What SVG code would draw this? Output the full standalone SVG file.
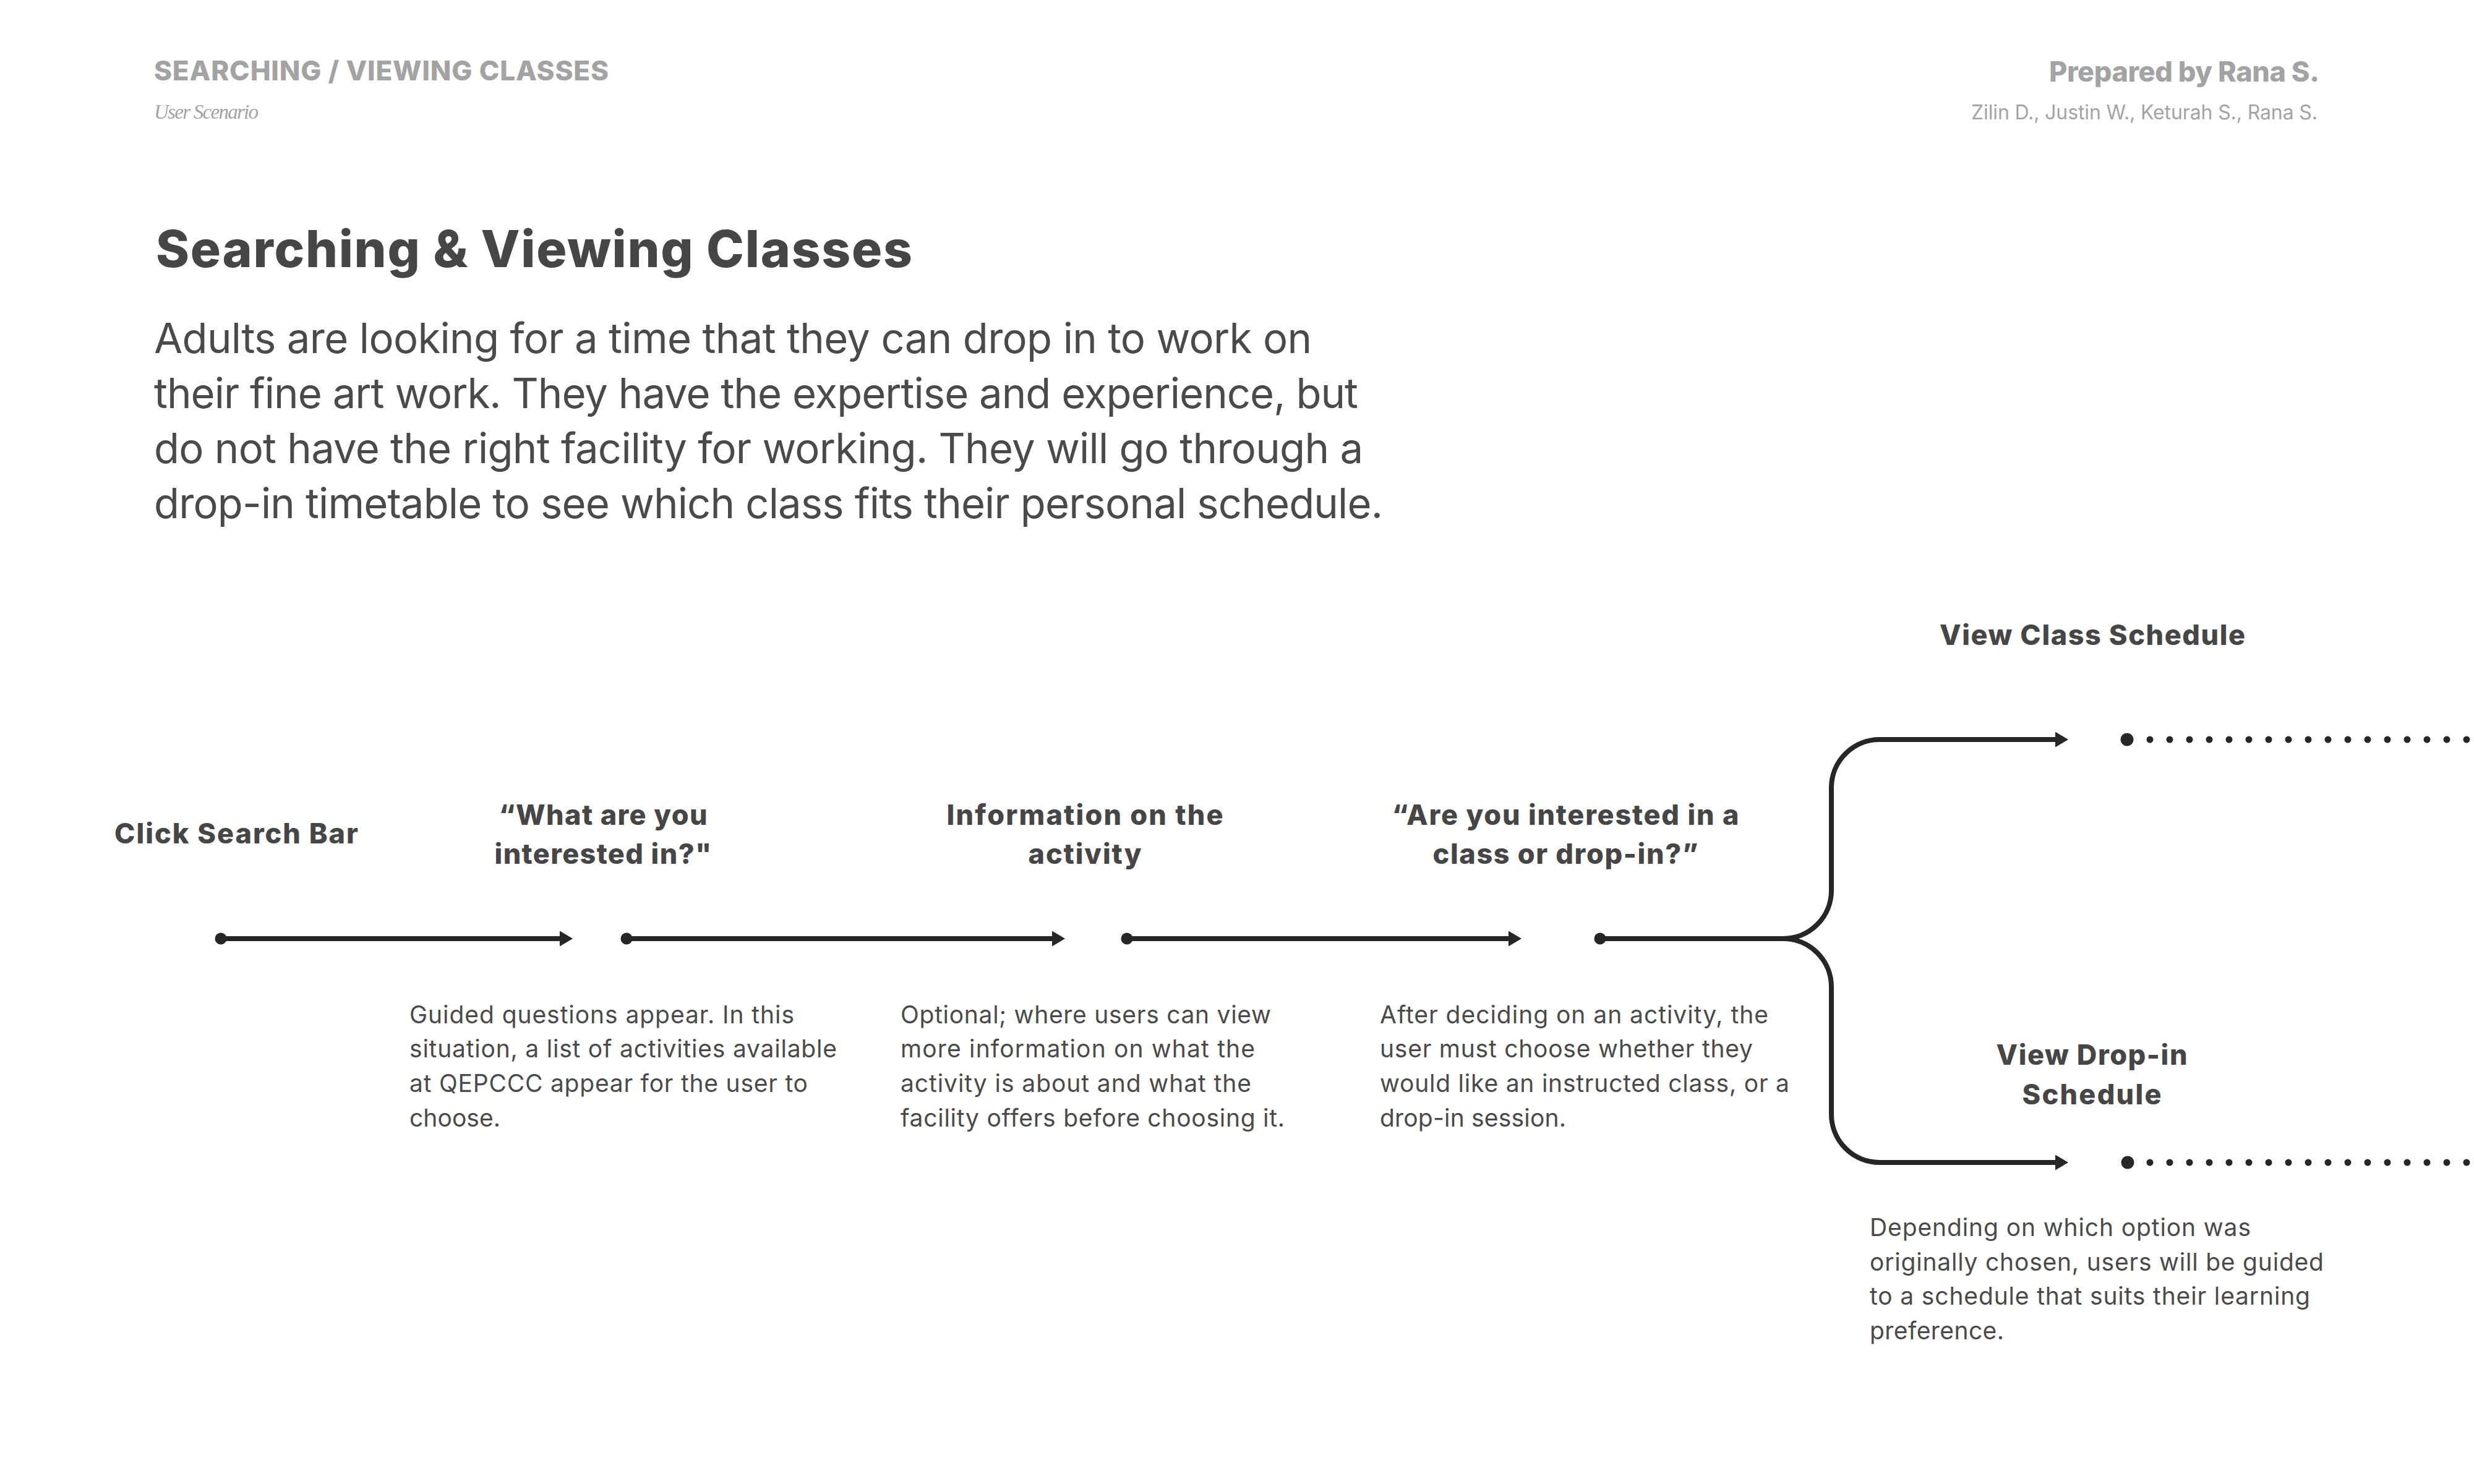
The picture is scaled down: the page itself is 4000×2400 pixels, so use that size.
<svg xmlns="http://www.w3.org/2000/svg" width="4000" height="2400" viewBox="0 0 4000 2400">
<defs>
<style>
.hdr{font-family:Inter,"Liberation Sans",sans-serif;font-weight:800;fill:#a3a3a3}
.hdrr{font-family:Inter,"Liberation Sans",sans-serif;font-weight:400;fill:#a3a3a3}
.sub{font-family:"Liberation Serif",serif;font-style:italic;fill:#a3a3a3}
.title{font-family:Inter,"Liberation Sans",sans-serif;font-weight:800;fill:#464646;font-size:82px}
.para{font-family:Inter,"Liberation Sans",sans-serif;font-weight:400;fill:#4a4a4a;font-size:67px}
.lbl{font-family:Inter,"Liberation Sans",sans-serif;font-weight:800;fill:#464646;font-size:45px;text-anchor:middle}
.desc{font-family:Inter,"Liberation Sans",sans-serif;font-weight:400;fill:#4a4a4a;font-size:39px}
.ln{fill:none;stroke:#262626;stroke-width:8}
.dots{fill:none;stroke:#262626;stroke-width:11;stroke-linecap:round;stroke-dasharray:0 32}
.dot{fill:#262626}
</style>
<marker id="arr" markerUnits="userSpaceOnUse" markerWidth="21" markerHeight="25" viewBox="0 0 21 25" refX="0" refY="12.5" orient="auto">
<path d="M0,0 L21,12.5 L0,25 z" fill="#262626"/>
</marker>
</defs>
<rect width="4000" height="2400" fill="#ffffff"/>

<g id="header">
<text class="hdr" x="249" y="130" font-size="44" textLength="735">SEARCHING / VIEWING CLASSES</text>
<text class="sub" x="249" y="192" font-size="33" textLength="169">User Scenario</text>
<text class="hdr" x="3750" y="132" font-size="45" text-anchor="end" textLength="437">Prepared by Rana S.</text>
<text class="hdrr" x="3747" y="193" font-size="32" text-anchor="end" textLength="560">Zilin D., Justin W., Keturah S., Rana S.</text>
</g>

<g id="title">
<text class="title" x="252" y="432" textLength="1223">Searching &amp; Viewing Classes</text>
</g>

<g id="scenario">
<text class="para" x="249" y="571" textLength="1872">Adults are looking for a time that they can drop in to work on</text>
<text class="para" x="249" y="660" textLength="1947">their fine art work. They have the expertise and experience, but</text>
<text class="para" x="249" y="749" textLength="1955">do not have the right facility for working. They will go through a</text>
<text class="para" x="249" y="838" textLength="1987">drop-in timetable to see which class fits their personal schedule.</text>
</g>

<g id="connectors">
<circle class="dot" cx="357" cy="1518" r="9.5"/>
<path class="ln" d="M357,1518 H905" marker-end="url(#arr)"/>
<circle class="dot" cx="1013" cy="1518" r="9.5"/>
<path class="ln" d="M1013,1518 H1701" marker-end="url(#arr)"/>
<circle class="dot" cx="1822" cy="1518" r="9.5"/>
<path class="ln" d="M1822,1518 H2439" marker-end="url(#arr)"/>
<circle class="dot" cx="2587" cy="1518" r="9.5"/>
<path class="ln" d="M2587,1518 H2883 A78,78 0 0 0 2961,1440 V1274 A78,78 0 0 1 3039,1196 H3323" marker-end="url(#arr)"/>
<path class="ln" d="M2883,1518 A78,78 0 0 1 2961,1596 V1802 A78,78 0 0 0 3039,1880 H3323" marker-end="url(#arr)"/>
<circle class="dot" cx="3439" cy="1196" r="10.5"/>
<path class="dots" d="M3476,1196 H4010"/>
<circle class="dot" cx="3440" cy="1880" r="10.5"/>
<path class="dots" d="M3476,1880 H4010"/>
</g>

<g id="node-click-search">
<text class="lbl" x="382" y="1364" textLength="394">Click Search Bar</text>
</g>

<g id="node-what-interested">
<text class="lbl" x="975" y="1334" textLength="337">“What are you</text>
<text class="lbl" x="975" y="1397" textLength="351">interested in?"</text>
<text class="desc" x="662" y="1655" textLength="622">Guided questions appear. In this</text>
<text class="desc" x="662" y="1710" textLength="691">situation, a list of activities available</text>
<text class="desc" x="662" y="1766" textLength="644">at QEPCCC appear for the user to</text>
<text class="desc" x="662" y="1822" textLength="147">choose.</text>
</g>

<g id="node-information">
<text class="lbl" x="1754" y="1334" textLength="447">Information on the</text>
<text class="lbl" x="1754" y="1397" textLength="183">activity</text>
<text class="desc" x="1456" y="1655" textLength="599">Optional; where users can view</text>
<text class="desc" x="1456" y="1710" textLength="573">more information on what the</text>
<text class="desc" x="1456" y="1766" textLength="567">activity is about and what the</text>
<text class="desc" x="1456" y="1822" textLength="621">facility offers before choosing it.</text>
</g>

<g id="node-class-or-dropin">
<text class="lbl" x="2531" y="1334" textLength="561">“Are you interested in a</text>
<text class="lbl" x="2531" y="1397" textLength="429">class or drop-in?”</text>
<text class="desc" x="2231" y="1655" textLength="628">After deciding on an activity, the</text>
<text class="desc" x="2231" y="1710" textLength="603">user must choose whether they</text>
<text class="desc" x="2231" y="1766" textLength="662">would like an instructed class, or a</text>
<text class="desc" x="2231" y="1822" textLength="301">drop-in session.</text>
</g>

<g id="node-class-schedule">
<text class="lbl" x="3383" y="1043" textLength="494">View Class Schedule</text>
</g>

<g id="node-dropin-schedule">
<text class="lbl" x="3382" y="1722" textLength="309">View Drop-in</text>
<text class="lbl" x="3382" y="1786" textLength="225">Schedule</text>
<text class="desc" x="3023" y="1999" textLength="616">Depending on which option was</text>
<text class="desc" x="3023" y="2055" textLength="734">originally chosen, users will be guided</text>
<text class="desc" x="3023" y="2110" textLength="712">to a schedule that suits their learning</text>
<text class="desc" x="3023" y="2166" textLength="217">preference.</text>
</g>
</svg>
